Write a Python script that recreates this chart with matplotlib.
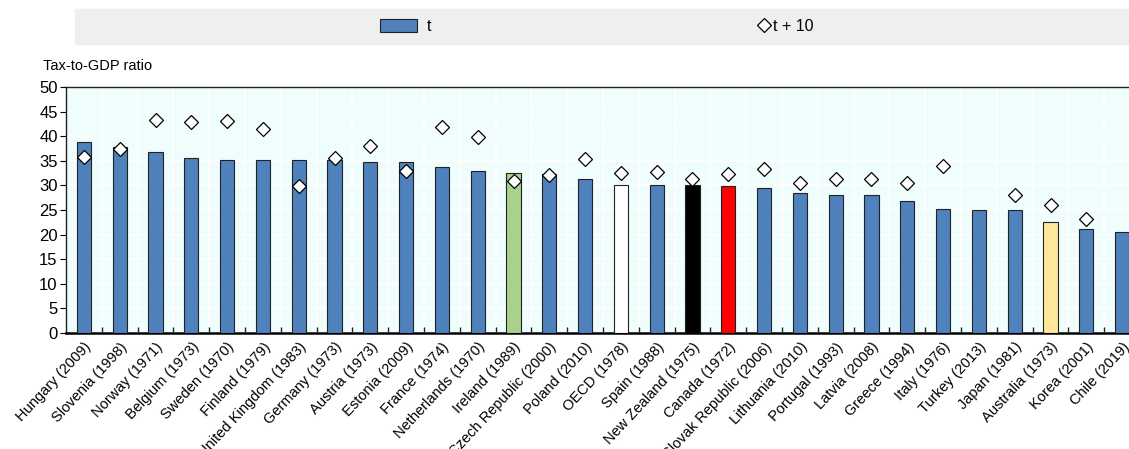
import numpy as np
import matplotlib
matplotlib.use("Agg")
import matplotlib.pyplot as plt
from matplotlib.patches import Patch
from matplotlib.lines import Line2D

plt.rcParams['font.family'] = ['Liberation Sans', 'DejaVu Sans']

countries = ["Hungary (2009)", "Slovenia (1998)", "Norway (1971)", "Belgium (1973)",
             "Sweden (1970)", "Finland (1979)", "United Kingdom (1983)", "Germany (1973)",
             "Austria (1973)", "Estonia (2009)", "France (1974)", "Netherlands (1970)",
             "Ireland (1989)", "Czech Republic (2000)", "Poland (2010)", "OECD (1978)",
             "Spain (1988)", "New Zealand (1975)", "Canada (1972)", "Slovak Republic (2006)",
             "Lithuania (2010)", "Portugal (1993)", "Latvia (2008)", "Greece (1994)",
             "Italy (1976)", "Turkey (2013)", "Japan (1981)", "Australia (1973)",
             "Korea (2001)", "Chile (2019)"]

t_vals = [38.9, 37.9, 36.7, 35.5, 35.2, 35.1, 35.1, 35.1, 34.8, 34.8,
          33.7, 32.9, 32.5, 32.3, 31.4, 30.1, 30.1, 30.1, 29.9, 29.4,
          28.5, 28.0, 28.0, 26.8, 25.3, 25.1, 25.1, 22.6, 21.2, 20.6]

t10_vals = [35.7, 37.3, 43.3, 42.8, 43.1, 41.5, 29.8, 35.6, 38.1, 33.0,
            41.8, 39.8, 30.8, 32.2, 35.4, 32.6, 32.8, 31.3, 32.4, 33.3,
            30.4, 31.4, 31.3, 30.5, 33.9, np.nan, 28.0, 26.1, 23.2, np.nan]

blue = "#4f81bd"
highlight = {"Ireland (1989)": "#a9d18e", "OECD (1978)": "white",
             "New Zealand (1975)": "black", "Canada (1972)": "#ff0000",
             "Australia (1973)": "#ffe699"}
colors = [highlight.get(c, blue) for c in countries]

fig = plt.figure(figsize=(11.29, 4.49), dpi=100)
ax = fig.add_axes([66 / 1129, 116 / 449, 30 * 35.8 / 1129, 246 / 449])
ax.set_facecolor("#f0fdfd")

x = np.arange(len(countries))
ax.bar(x, t_vals, width=0.4, color=colors, edgecolor="#222222", linewidth=0.8, zorder=3)
ax.plot(x, t10_vals, linestyle="none", marker="D", markersize=7.5,
        markerfacecolor="white", markeredgecolor="black", markeredgewidth=0.9, zorder=4)

ax.set_xlim(-0.5, len(countries) - 0.5)
ax.set_ylim(0, 50)
ax.set_yticks(range(0, 51, 5))
ax.set_xticks(x)
ax.set_xticklabels(countries, rotation=47, ha="right", rotation_mode="anchor", fontsize=10.5)
ax.set_xticks(x[:-1] + 0.5, minor=True)
ax.tick_params(axis="x", which="major", length=0, pad=5)
ax.tick_params(axis="x", which="minor", direction="in", length=4, width=1, color="#222222")
ax.tick_params(axis="y", direction="out", length=4, labelsize=12, pad=2)

ax.grid(axis="y", color="white", linewidth=1.2, zorder=0)
ax.grid(axis="x", which="minor", color="white", linewidth=1.2, zorder=0)
ax.set_axisbelow(True)
for s in ["top", "left"]:
    ax.spines[s].set_color("#222222")
    ax.spines[s].set_linewidth(1)
ax.spines["bottom"].set_linewidth(1.8)
ax.spines["right"].set_visible(False)

fig.text(43 / 1129, 1 - 66 / 449, "Tax-to-GDP ratio", fontsize=10.5, va="center", ha="left")

# legend band
fig.patches.append(plt.Rectangle((75 / 1129, 1 - 44 / 449), 1.0, 35 / 449,
                                 transform=fig.transFigure, color="#efefef", zorder=0))
leg1 = fig.legend(handles=[Patch(facecolor=blue, edgecolor="#222222", linewidth=0.8, label="t")],
                  loc="center left", bbox_to_anchor=(366 / 1129, 1 - 26.5 / 449), frameon=False,
                  fontsize=11.5, handlelength=2.3, handleheight=0.9, handletextpad=0.6)
leg2 = fig.legend(handles=[Line2D([], [], linestyle="none", marker="D", markersize=7,
                                  markerfacecolor="white", markeredgecolor="black",
                                  markeredgewidth=0.9, label="t + 10")],
                  loc="center left", bbox_to_anchor=(745 / 1129, 1 - 26.5 / 449), frameon=False,
                  fontsize=11.5, handlelength=0.6, handletextpad=0.25)

fig.savefig("out.png", dpi=100)
